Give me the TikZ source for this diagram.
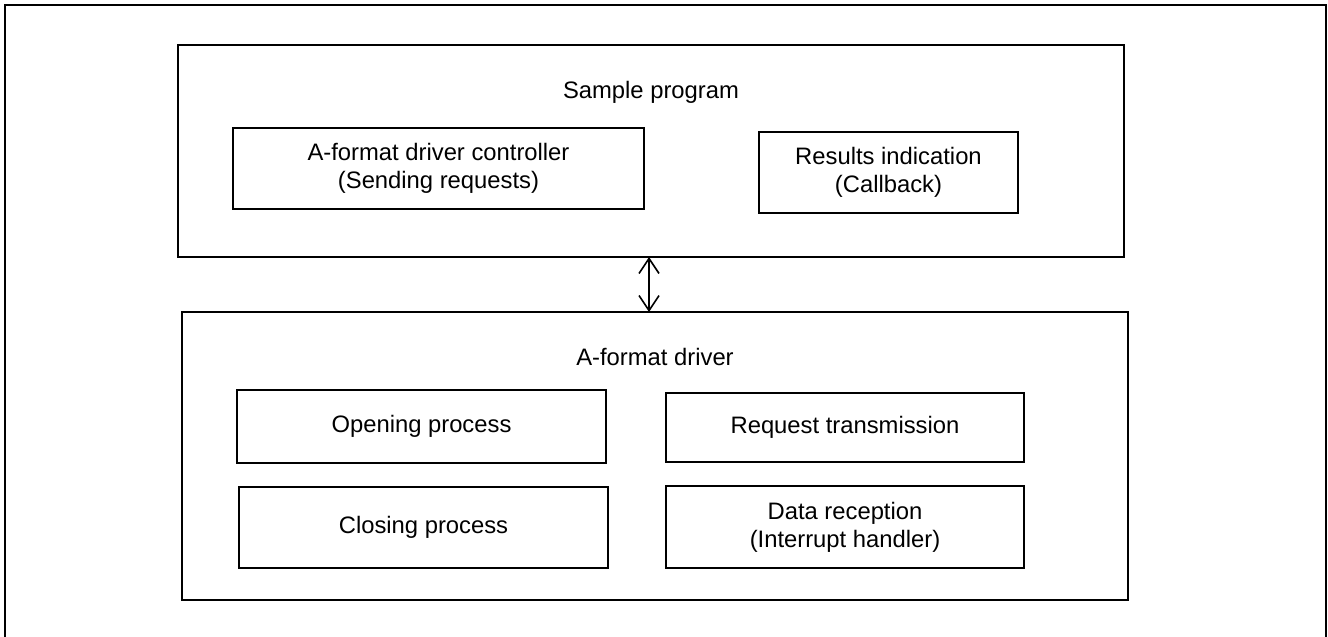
\documentclass[tikz,border=0pt]{standalone}
\usepackage{fontspec}
\setmainfont{Liberation Sans}
\usetikzlibrary{arrows.meta}
\tikzset{
  box/.style={draw=black, line width=2.6pt, rectangle, inner sep=0pt, outer sep=0pt, align=center,
              font=\fontsize{23.8}{28}\selectfont},
  ttl/.style={inner sep=0pt, font=\fontsize{23.8}{28}\selectfont},
  link/.style={line width=1.6pt, {Straight Barb[length=15pt,width=20pt,line width=1.6pt]}-{Straight Barb[length=15pt,width=20pt,line width=1.6pt]}}
}
\begin{document}
\begin{tikzpicture}[x=1pt,y=-1pt]
\useasboundingbox (0,0) rectangle (1328,637);
\draw[line width=2.8pt] (5,5) rectangle (1326,660);
% top group
\node[box, minimum width=946pt, minimum height=212pt] (top) at (651,151) {};
\node[ttl] (toptitle) at (651,92) {Sample program};
\node[box, minimum width=411pt, minimum height=81pt] (ctrl) at (438.5,168.5) {A-format driver controller\\(Sending requests)};
\node[box, minimum width=259pt, minimum height=81pt] (res) at (888.5,172.5) {Results indication\\(Callback)};
% bottom group
\node[box, minimum width=946pt, minimum height=288pt] (bot) at (655,456) {};
\node[ttl] (bottitle) at (655,357) {A-format driver};
\node[box, minimum width=369pt, minimum height=73pt] (open) at (421.5,426.5) {Opening process};
\node[box, minimum width=358pt, minimum height=69pt] (req) at (845,427.5) {Request transmission};
\node[box, minimum width=369pt, minimum height=81pt] (close) at (423.5,527.5) {Closing process};
\node[box, minimum width=358pt, minimum height=82pt] (data) at (845,527) {Data reception\\(Interrupt handler)};
% connector
\draw[link] ([xshift=-2pt]top.south) -- ([xshift=-2pt]top.south |- bot.north);
\end{tikzpicture}
\end{document}
